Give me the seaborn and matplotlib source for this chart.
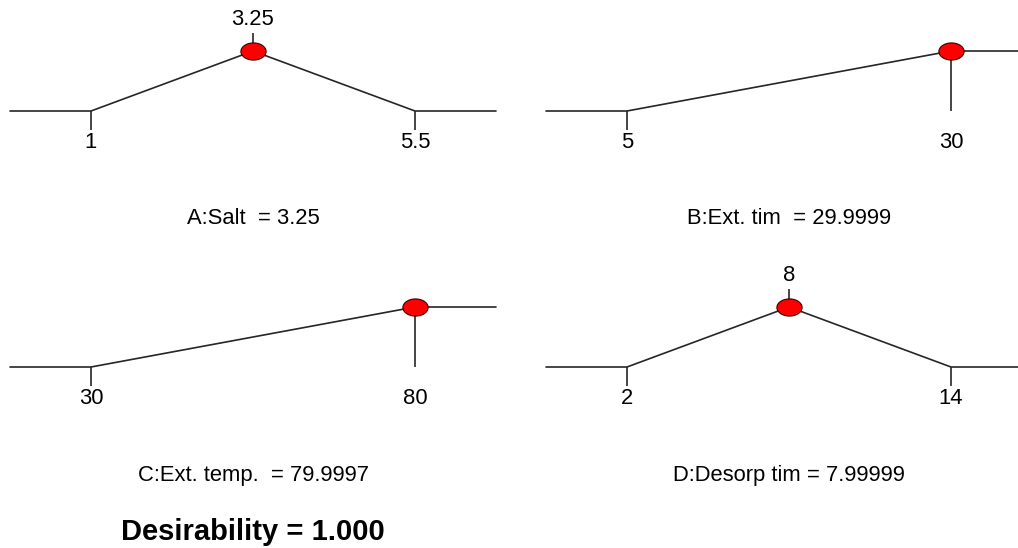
import numpy as np
import pandas as pd
import seaborn as sns
import matplotlib.pyplot as plt
from matplotlib.path import Path

# factor settings of the optimisation (desirability ramps)
factor_titles = ["A:Salt  = 3.25", "B:Ext. tim  = 29.9999",
                 "C:Ext. temp.  = 79.9997", "D:Desorp tim = 7.99999"]
lows = [1, 5, 30, 2]
highs = [5.5, 30, 80, 14]
goals = ["target", "maximize", "maximize", "target"]
optimum = [3.25, 29.9999, 79.9997, 7.99999]
low_labels = ["1", "5", "30", "2"]
high_labels = ["5.5", "30", "80", "14"]
optimum_labels = ["3.25", None, None, "8"]
desirability_text = "Desirability = 1.000"

sns.set_style("white")
plt.rcParams['font.family'] = ['Liberation Sans', 'DejaVu Sans']
plt.rcParams['text.color'] = 'black'

W, H = 1018, 548
fig = plt.figure(figsize=(W / 100, H / 100), dpi=100)
fig.patch.set_facecolor("white")

# panel placement in pixels: (left edge, baseline)
panel_px = [(10, 111), (546, 111), (10, 367), (546, 367)]
panel_w, ramp_h = 486, 60

# ellipse marker
t = np.linspace(0, 2 * np.pi, 60)
ellipse = Path(np.column_stack([np.cos(t), 0.68 * np.sin(t)]), closed=True)

line_col = "#262626"
fs = 15.8

for i in range(4):
    left, base = panel_px[i]
    ax = fig.add_axes([left / W, 1 - base / H, panel_w / W, ramp_h / H])
    lo, hi = lows[i], highs[i]
    ext = 0.25 * (hi - lo)
    if goals[i] == "target":
        xs = [lo - ext, lo, optimum[i], hi, hi + ext]
        ys = [0, 0, 1, 0, 0]
    else:
        xs = [lo - ext, lo, hi, hi + ext]
        ys = [0, 0, 1, 1]
    df = pd.DataFrame({"x": xs, "y": ys})
    sns.lineplot(data=df, x="x", y="y", ax=ax, color=line_col, linewidth=1.2,
                 estimator=None, sort=False)
    for ln in ax.lines:
        ln.set_clip_on(False)

    # ticks at low / high
    for xv, yv in [(lo, ys[1]), (hi, ys[-2])]:
        if yv == 0:
            ax.vlines(xv, -0.32, 0, color=line_col, linewidth=1.2, clip_on=False)
        else:
            ax.vlines(xv, 0, 1, color=line_col, linewidth=1.2, clip_on=False)
    ax.text(lo, -0.53, low_labels[i], ha="center", va="center", fontsize=fs)
    ax.text(hi, -0.53, high_labels[i], ha="center", va="center", fontsize=fs)

    if optimum_labels[i] is not None:
        ax.vlines(optimum[i], 1, 1.3, color=line_col, linewidth=1.2, clip_on=False)
        ax.text(optimum[i], 1.52, optimum_labels[i], ha="center", va="center",
                fontsize=fs)

    sns.scatterplot(x=[optimum[i]], y=[1], ax=ax, marker=ellipse, s=330,
                    color="#ff0000", edgecolor="#3a0000", linewidth=0.8,
                    zorder=5, clip_on=False, legend=False)

    ax.text((xs[0] + xs[-1]) / 2, -1.8, factor_titles[i],
            ha="center", va="center", fontsize=fs)

    ax.set_xlim(lo - ext, hi + ext)
    ax.set_ylim(0, 1)
    ax.set_axis_off()

fig.text(253 / W, 1 - 532 / H, desirability_text, ha="center", va="center",
         fontsize=21, fontweight="bold")

fig.savefig("out.png", dpi=100)
